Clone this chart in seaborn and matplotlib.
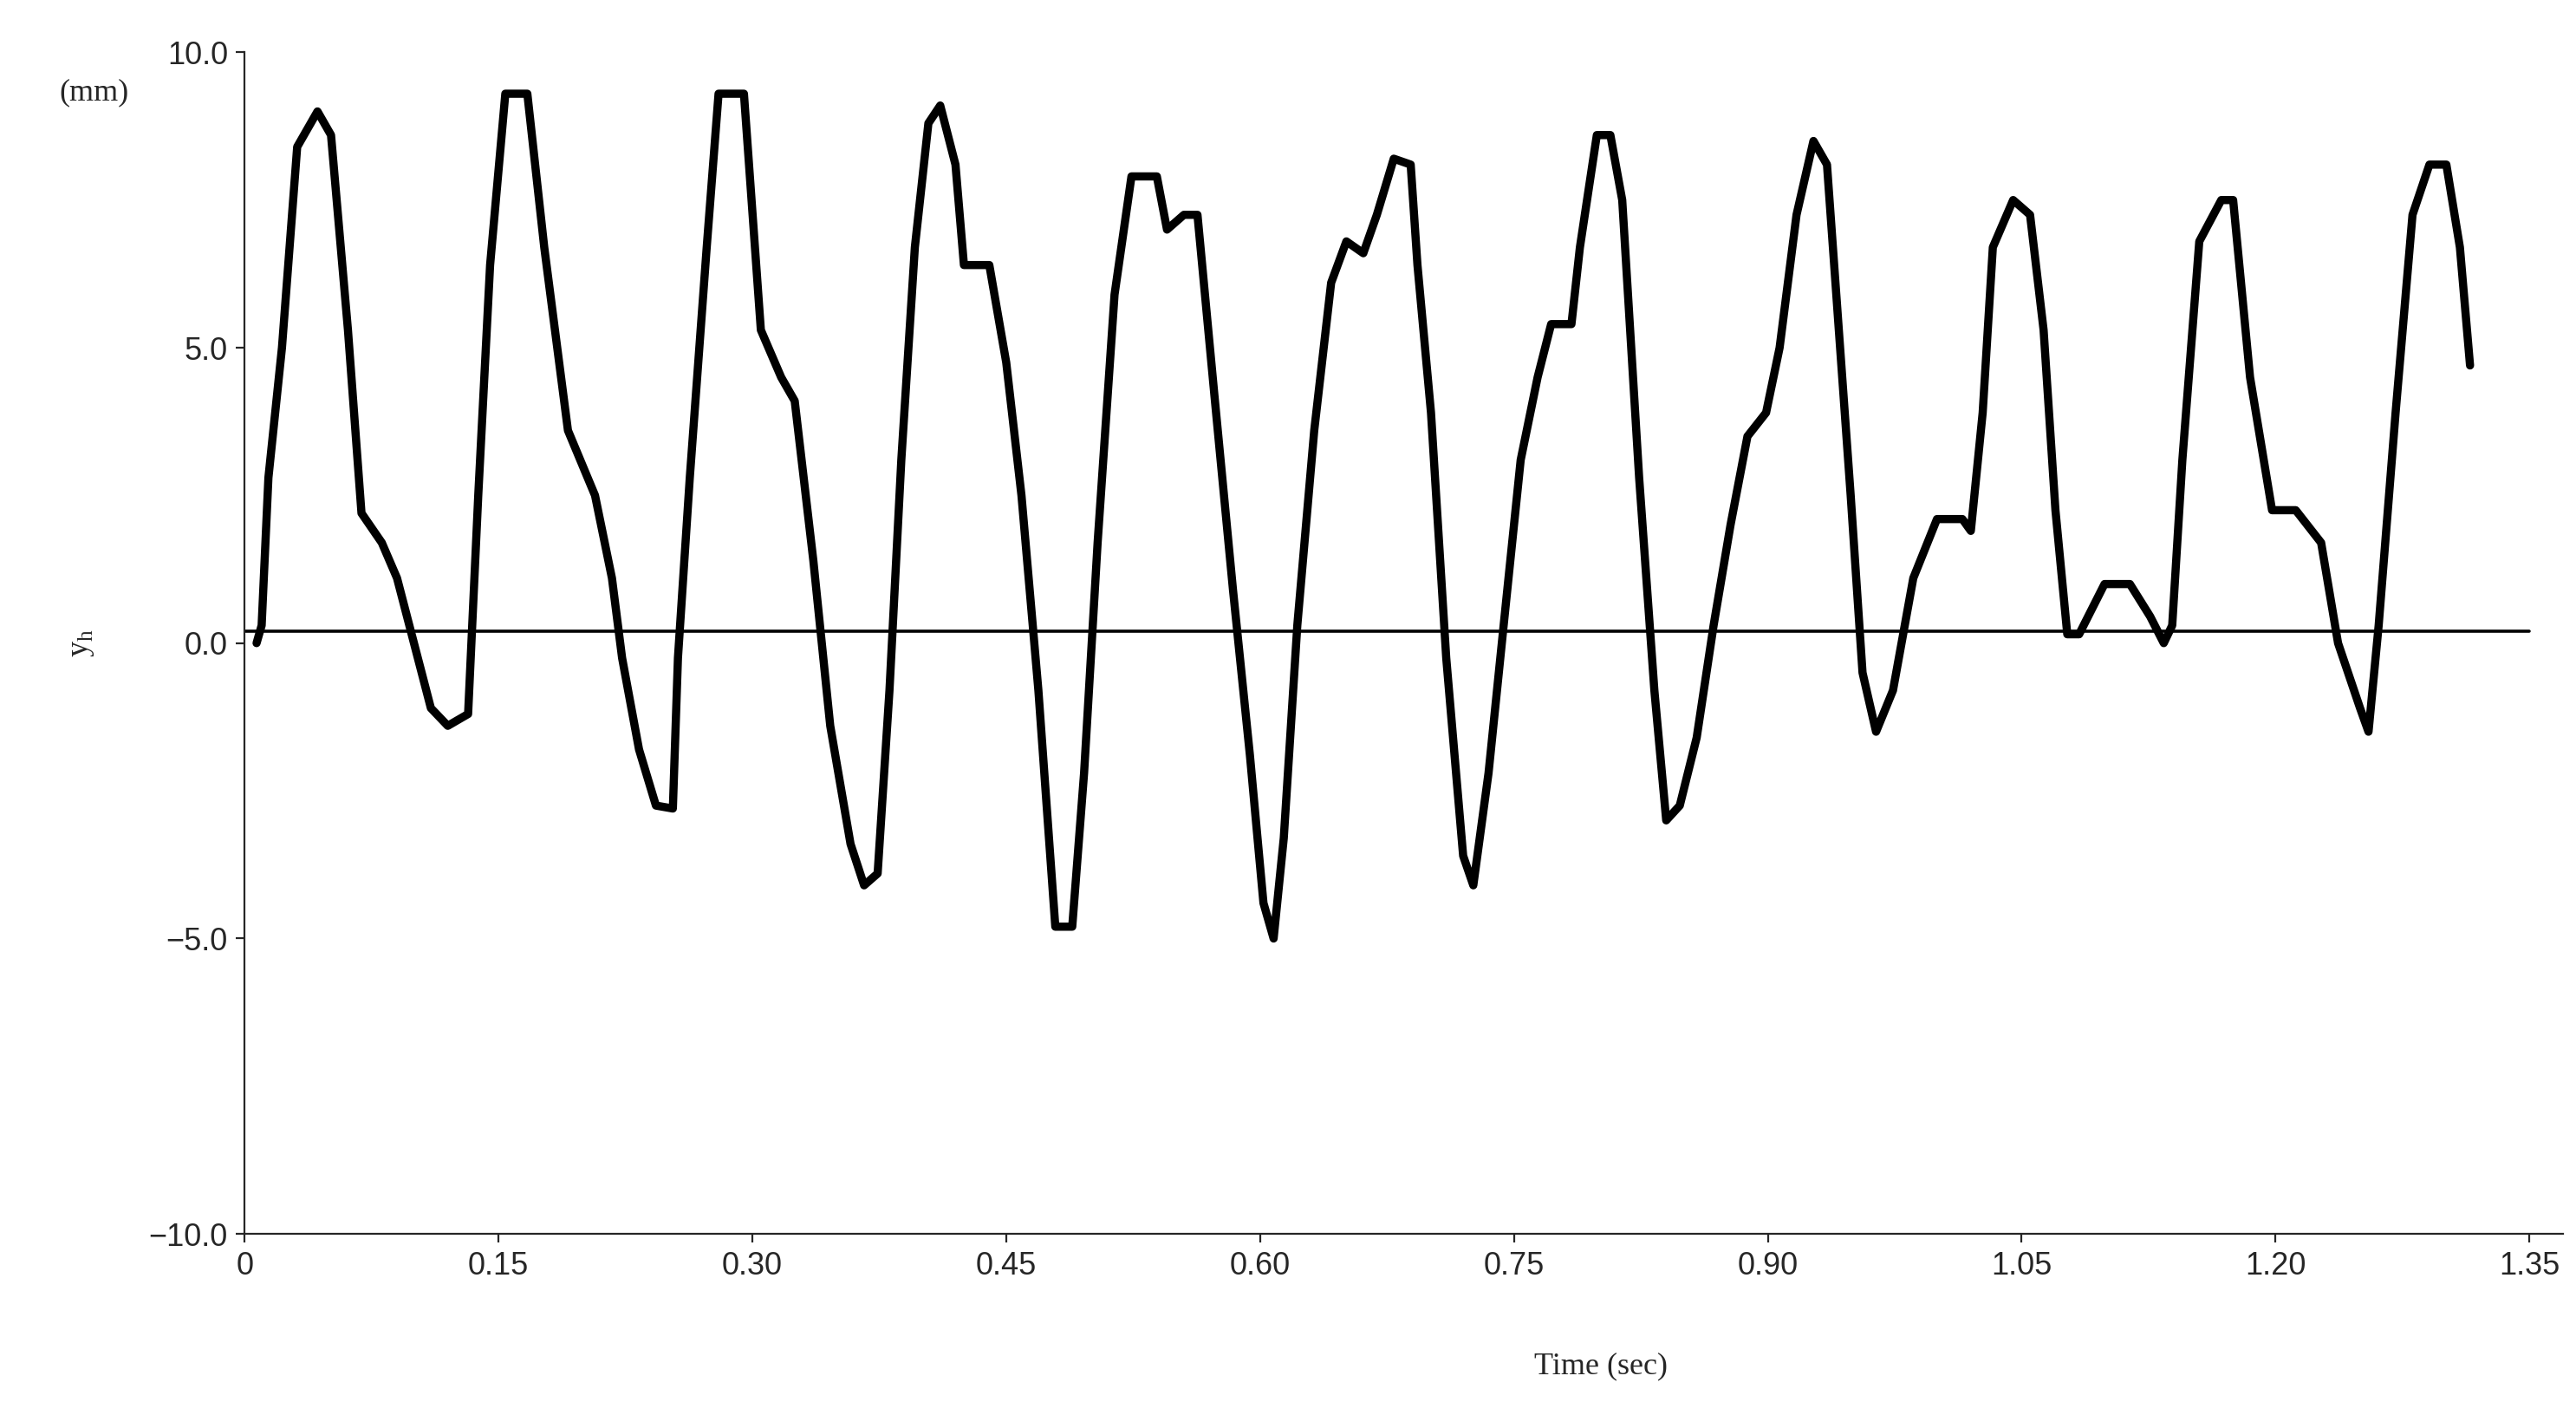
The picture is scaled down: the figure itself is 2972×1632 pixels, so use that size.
import matplotlib
matplotlib.use("Agg")
import matplotlib.pyplot as plt
import seaborn as sns
import pandas as pd

time = [0.007,0.01,0.014,0.022,0.031,0.043,0.051,0.061,0.069,0.081,0.09,0.1,0.11,0.12,0.132,0.138,0.145,0.154,0.167,0.177,0.191,0.207,0.217,0.223,0.233,0.243,0.253,0.256,0.263,0.273,0.28,0.295,0.305,0.317,0.325,0.336,0.346,0.358,0.366,0.374,0.381,0.388,0.396,0.404,0.411,0.42,0.425,0.44,0.45,0.459,0.469,0.479,0.489,0.496,0.504,0.514,0.524,0.539,0.545,0.555,0.563,0.573,0.584,0.594,0.602,0.608,0.614,0.622,0.632,0.642,0.651,0.661,0.669,0.679,0.689,0.693,0.701,0.71,0.72,0.726,0.735,0.745,0.754,0.764,0.772,0.784,0.789,0.799,0.807,0.814,0.824,0.833,0.84,0.848,0.858,0.868,0.878,0.888,0.899,0.907,0.917,0.927,0.935,0.942,0.949,0.956,0.964,0.974,0.986,1.0,1.015,1.02,1.027,1.033,1.045,1.055,1.063,1.07,1.077,1.084,1.099,1.114,1.126,1.134,1.139,1.145,1.155,1.168,1.175,1.185,1.198,1.212,1.227,1.237,1.25,1.255,1.261,1.271,1.281,1.291,1.301,1.309,1.315]
yh = [0,0.3,2.8,5,8.4,9.0,8.6,5.3,2.2,1.7,1.1,0,-1.1,-1.4,-1.2,2.5,6.4,9.3,9.3,6.7,3.6,2.5,1.1,-0.25,-1.8,-2.75,-2.8,-0.25,2.8,6.7,9.3,9.3,5.3,4.5,4.1,1.4,-1.4,-3.4,-4.1,-3.9,-0.8,3.1,6.7,8.8,9.1,8.1,6.4,6.4,4.75,2.5,-0.8,-4.8,-4.8,-2.2,1.7,5.9,7.9,7.9,7.0,7.25,7.25,4.2,0.9,-1.9,-4.4,-5.0,-3.3,0.3,3.6,6.1,6.8,6.6,7.25,8.2,8.1,6.4,3.9,-0.25,-3.6,-4.1,-2.2,0.6,3.1,4.5,5.4,5.4,6.7,8.6,8.6,7.5,2.8,-0.8,-3.0,-2.75,-1.6,0.3,2.0,3.5,3.9,5.0,7.25,8.5,8.1,5.3,2.5,-0.5,-1.5,-0.8,1.1,2.1,2.1,1.9,3.9,6.7,7.5,7.25,5.3,2.25,0.15,0.15,1.0,1.0,0.45,0,0.3,3.1,6.8,7.5,7.5,4.5,2.25,2.25,1.7,0,-1.1,-1.5,0.3,3.9,7.25,8.1,8.1,6.7,4.7]
base_t = [0.0, 1.35]
base_y = [0.2, 0.2]
xticks = [0, 0.15, 0.30, 0.45, 0.60, 0.75, 0.90, 1.05, 1.20, 1.35]
xlabels = ["0", "0.15", "0.30", "0.45", "0.60", "0.75", "0.90", "1.05", "1.20", "1.35"]
yticks = [-10, -5, 0, 5, 10]
ylabels = ["\u221210.0", "\u22125.0", "0.0", "5.0", "10.0"]

sns.set_style("ticks")
plt.rcParams['font.family'] = ['Liberation Sans', 'DejaVu Sans']
fig = plt.figure(figsize=(14.86, 8.16), dpi=200)
ax = fig.add_axes([0.095, 0.128, 0.9, 0.835])
df = pd.DataFrame({"t": time, "y": yh})
sns.lineplot(data=df, x="t", y="y", ax=ax, color="black", linewidth=3.4, sort=False)
sns.lineplot(x=base_t, y=base_y, ax=ax, color="black", linewidth=1.3)
ax.set_xlim(0, 1.37)
ax.set_ylim(-10, 10)
ax.set_xticks(xticks)
ax.set_xticklabels(xlabels, fontsize=13)
ax.set_yticks(yticks)
ax.set_yticklabels(ylabels, fontsize=13)
ax.set_xlabel("Time (sec)", fontsize=13, family="Liberation Serif", labelpad=28)
ax.xaxis.set_label_coords(0.585, -0.1)
ax.set_ylabel("y$_\\mathregular{h}$", fontsize=13, family="Liberation Serif", labelpad=22)
ax.text(-0.08, 0.96, "(mm)", transform=ax.transAxes, fontsize=13, family="Liberation Serif")
sns.despine(ax=ax)
fig.savefig("out.png", dpi=200)
